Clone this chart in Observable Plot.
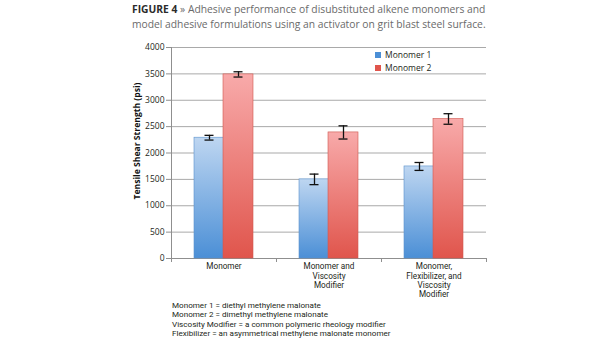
<!DOCTYPE html>
<html><head><meta charset="utf-8">
<script src="https://cdn.jsdelivr.net/npm/d3@7"></script>
<script src="https://cdn.jsdelivr.net/npm/@observablehq/plot@0.6"></script>
<style>
html,body{margin:0;padding:0;background:#fff;}
#wrap{position:relative;width:615px;height:350px;overflow:hidden;font-family:"Open Sans",sans-serif;}
#title{position:absolute;left:132px;top:2px;font-size:10.3px;line-height:14.5px;color:#6a6a6a;width:480px;white-space:nowrap;}
#title b{color:#2b2b2b;font-weight:700;}
#chart{position:absolute;left:0;top:38px;}
#ylabel{position:absolute;left:37px;top:134px;width:200px;height:14px;line-height:14px;text-align:center;font-size:8.6px;font-weight:700;color:#111;transform:rotate(-90deg);transform-origin:100px 7px;white-space:nowrap;}
#legend{position:absolute;left:375px;top:49px;font-size:8.5px;line-height:12.5px;color:#231f20;}
#legend .sw{display:inline-block;width:6px;height:6px;margin-right:4px;vertical-align:0px;}
#notes{position:absolute;left:172px;top:301px;font-family:Roboto,sans-serif;font-size:8.1px;line-height:9.3px;color:#231f20;white-space:nowrap;}
</style>
</head><body>
<div id="wrap">
  <div id="title"><b>FIGURE 4</b> » Adhesive performance of disubstituted alkene monomers and<br>model adhesive formulations using an activator on grit blast steel surface.</div>
  <div id="chart"></div>
  <div id="ylabel"></div>
  <div id="legend"></div>
  <div id="notes"></div>
</div>
<script>
const categories = ["Monomer", "Monomer and\nViscosity\nModifier", "Monomer,\nFlexibilizer, and\nViscosity\nModifier"];
const seriesNames = ["Monomer 1", "Monomer 2"];
const monomer1 = [2290, 1500, 1745];
const monomer1Err = [45, 100, 75];
const monomer2 = [3490, 2390, 2645];
const monomer2Err = [50, 125, 100];
const yTicks = [0, 500, 1000, 1500, 2000, 2500, 3000, 3500, 4000];
const yLabel = "Tensile Shear Strength (psi)";
const notes = [
  "Monomer 1 = diethyl methylene malonate",
  "Monomer 2 = dimethyl methylene malonate",
  "Viscosity Modifier = a common polymeric rheology modifier",
  "Flexibilizer = an asymmetrical methylene malonate monomer"
];

const m1 = categories.map((c, i) => ({category: c, series: seriesNames[0], value: monomer1[i], err: monomer1Err[i]}));
const m2 = categories.map((c, i) => ({category: c, series: seriesNames[1], value: monomer2[i], err: monomer2Err[i]}));

const axisColor = "#8f8f8f";
const plot = Plot.plot({
  width: 615, height: 262,
  marginLeft: 171, marginRight: 129, marginTop: 9, marginBottom: 42,
  style: {fontFamily: "'Open Sans', sans-serif", fontSize: "8.5px", color: "#231f20", background: "transparent"},
  x: {domain: categories, padding: 0, axis: null},
  y: {domain: [0, 4000], axis: null},
  marks: [
    Plot.gridY(yTicks.slice(1), {stroke: "#a9a9a9", strokeOpacity: 1, strokeWidth: 1}),
    Plot.axisY(yTicks, {tickSize: 5, tickPadding: 2, stroke: axisColor, fill: "#231f20", label: null, tickFormat: d => String(d)}),
    Plot.ruleY([0], {stroke: axisColor}),
    Plot.ruleX([categories[0]], {dx: -52.5, y1: 0, y2: 4000, stroke: axisColor}),
    Plot.ruleX(categories, {x: d => d, dx: -52.5, y1: 0, y2: 0, insetTop: 4, stroke: axisColor}),
    Plot.ruleX([categories[categories.length - 1]], {x: d => d, dx: 52.5, y1: 0, y2: 0, insetTop: 4, stroke: axisColor}),
    Plot.barY(m1, {x: "category", y: "value", insetLeft: 23, insetRight: 52, fill: "url(#gBlue)", stroke: "#5b92cc", strokeWidth: 0.6}),
    Plot.barY(m2, {x: "category", y: "value", insetLeft: 52, insetRight: 23, fill: "url(#gRed)", stroke: "#d0574f", strokeWidth: 0.6}),
    Plot.ruleX(m1, {x: "category", y1: d => d.value - d.err, y2: d => d.value + d.err, dx: -14.5, stroke: "#111", strokeWidth: 1.3}),
    Plot.tickY(m1, {x: "category", y: d => d.value + d.err, insetLeft: 33.5, insetRight: 62.5, stroke: "#111", strokeWidth: 1.3}),
    Plot.tickY(m1, {x: "category", y: d => d.value - d.err, insetLeft: 33.5, insetRight: 62.5, stroke: "#111", strokeWidth: 1.3}),
    Plot.ruleX(m2, {x: "category", y1: d => d.value - d.err, y2: d => d.value + d.err, dx: 14.5, stroke: "#111", strokeWidth: 1.3}),
    Plot.tickY(m2, {x: "category", y: d => d.value + d.err, insetLeft: 62.5, insetRight: 33.5, stroke: "#111", strokeWidth: 1.3}),
    Plot.tickY(m2, {x: "category", y: d => d.value - d.err, insetLeft: 62.5, insetRight: 33.5, stroke: "#111", strokeWidth: 1.3}),
    Plot.text(categories, {x: d => d, y: 0, text: d => d, dy: 4, lineAnchor: "top", lineHeight: 1.15, fontSize: 8.2, fontFamily: "Roboto, sans-serif", fill: "#231f20"})
  ]
});
const ns = "http://www.w3.org/2000/svg";
const defs = document.createElementNS(ns, "defs");
defs.innerHTML =
  '<linearGradient id="gBlue" x1="0" y1="0" x2="0" y2="1"><stop offset="0" stop-color="#bed6f1"/><stop offset="1" stop-color="#4b8fd6"/></linearGradient>' +
  '<linearGradient id="gRed" x1="0" y1="0" x2="0" y2="1"><stop offset="0" stop-color="#f8aaaa"/><stop offset="1" stop-color="#e0554c"/></linearGradient>';
plot.insertBefore(defs, plot.firstChild);
document.getElementById("chart").appendChild(plot);

document.getElementById("ylabel").textContent = yLabel;
const legendColors = ["#4b8fd6", "#e0554c"];
document.getElementById("legend").innerHTML = seriesNames.map((s, i) =>
  `<div><span class="sw" style="background:${legendColors[i]}"></span>${s}</div>`).join("");
document.getElementById("notes").innerHTML = notes.map(n => `<div>${n}</div>`).join("");
</script>
</body></html>
